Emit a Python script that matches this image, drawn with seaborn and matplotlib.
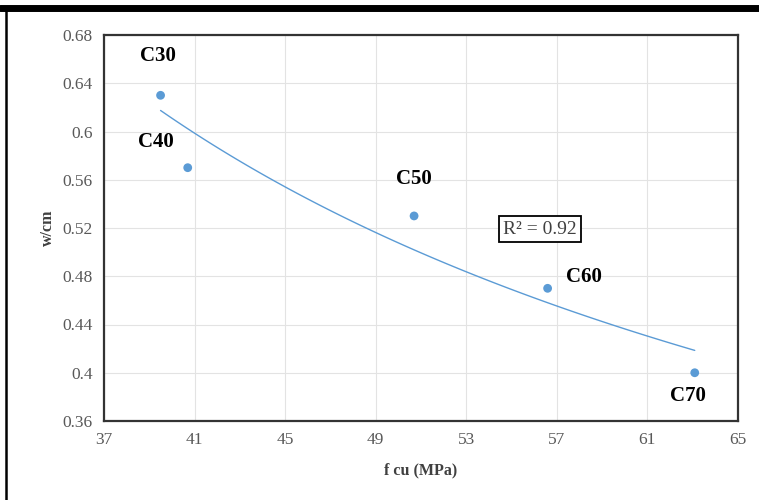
import numpy as np
import matplotlib
matplotlib.use("Agg")
import matplotlib.pyplot as plt
import seaborn as sns
import pandas as pd
from matplotlib.lines import Line2D

grades = ["C30", "C40", "C50", "C60", "C70"]
fcu = [39.5, 40.7, 50.7, 56.6, 63.1]
wcm = [0.63, 0.57, 0.53, 0.47, 0.40]
label_x = [39.4, 39.3, 50.7, 58.2, 62.8]
label_y = [0.663, 0.591, 0.561, 0.479, 0.381]
xticks = [37, 41, 45, 49, 53, 57, 61, 65]
yticks = [0.36, 0.40, 0.44, 0.48, 0.52, 0.56, 0.60, 0.64, 0.68]
r2_text = "R² = 0.92"

sns.set_theme(style="whitegrid")
plt.rcParams['font.family'] = ['Liberation Serif', 'DejaVu Serif']

df = pd.DataFrame({"fcu": fcu, "wcm": wcm, "grade": grades})

fig = plt.figure(figsize=(7.59, 5.0), dpi=100)
ax = fig.add_axes([0.137, 0.158, 0.835, 0.772])

# power trendline (Excel style) fitted from the data
b, lna = np.polyfit(np.log(fcu), np.log(wcm), 1)
xs = np.linspace(min(fcu), max(fcu), 100)
ys = np.exp(lna) * xs ** b
sns.lineplot(x=xs, y=ys, ax=ax, color="#5B9BD5", linewidth=1.0, zorder=2)

sns.scatterplot(data=df, x="fcu", y="wcm", ax=ax, color="#5B9BD5", s=40,
                edgecolor="none", zorder=3)

for g, lx, ly in zip(grades, label_x, label_y):
    ax.text(lx, ly, g, ha="center", va="center", fontsize=15,
            fontweight="bold", color="black")

ax.text(56.25, 0.519, r2_text, ha="center", va="center", fontsize=14,
        color="#404040",
        bbox=dict(boxstyle="square,pad=0.22", facecolor="white",
                  edgecolor="black", linewidth=1.3))

ax.set_xlim(37, 65)
ax.set_ylim(0.36, 0.68)
ax.set_xticks(xticks)
ax.set_yticks(yticks)
ax.set_xticklabels([str(t) for t in xticks])
ax.set_yticklabels([f"{t:g}" for t in yticks])
ax.tick_params(axis="both", labelsize=12.5, colors="#595959", length=0, pad=8)
ax.set_xlabel("f cu (MPa)", fontsize=11.5, fontweight="bold", color="#404040",
              labelpad=10)
ax.set_ylabel("w/cm", fontsize=11.5, fontweight="bold", color="#404040",
              labelpad=5)
ax.grid(True, color="#e3e3e3", linewidth=0.8)
for s in ax.spines.values():
    s.set_visible(True)
    s.set_color("#333333")
    s.set_linewidth(1.6)

# outer frame lines
fig.add_artist(Line2D([0.0, 1.0], [0.985, 0.985], transform=fig.transFigure,
                      color="black", linewidth=5))
fig.add_artist(Line2D([0.008, 0.008], [0.0, 0.985], transform=fig.transFigure,
                      color="black", linewidth=1.8))

fig.savefig("out.png", dpi=100, facecolor="white")
